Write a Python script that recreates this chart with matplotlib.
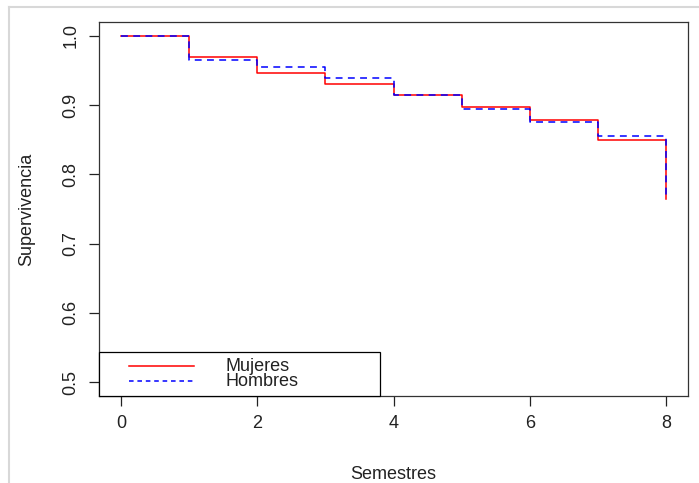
import matplotlib.pyplot as plt
from matplotlib.lines import Line2D
from matplotlib.patches import Rectangle

plt.rcParams['font.family'] = ['Liberation Sans Narrow', 'Liberation Sans', 'DejaVu Sans']

# curvas de supervivencia por semestre
semestres = [0, 1, 2, 3, 4, 5, 6, 7, 8]
surv_mujeres = [1.0, 0.970, 0.947, 0.931, 0.915, 0.897, 0.878, 0.850, 0.764]
surv_hombres = [1.0, 0.965, 0.955, 0.939, 0.915, 0.895, 0.876, 0.855, 0.764]
etiquetas = ["Mujeres", "Hombres"]

fig = plt.figure(figsize=(6.99, 4.83), dpi=100)
ax = fig.add_axes([99 / 699, 1 - 396 / 483, 589 / 699, 374 / 483])

ax.step(semestres, surv_mujeres, where="post", color="red", lw=1.1)
ax.step(semestres, surv_hombres, where="post", color="blue", lw=1.1,
        linestyle=(0, (4.5, 3.5)))

ax.set_xlim(-0.32, 8.32)
ax.set_ylim(0.48, 1.02)
ax.set_xticks([0, 2, 4, 6, 8])
ax.set_yticks([0.5, 0.6, 0.7, 0.8, 0.9, 1.0])
ax.set_yticklabels(["0.5", "0.6", "0.7", "0.8", "0.9", "1.0"], rotation=90, va="center")
ax.tick_params(length=7, width=0.9, labelsize=13, pad=7, colors="#222222")
for s in ax.spines.values():
    s.set_color("#333333")
    s.set_linewidth(0.9)

ax.set_xlabel("Semestres", fontsize=13, labelpad=24, color="#222222")
ax.set_ylabel("Supervivencia", fontsize=13, labelpad=20, color="#222222")

# leyenda al estilo de R, pegada a la esquina inferior izquierda
ax.add_patch(Rectangle((0, 0), 0.477, 0.118, transform=ax.transAxes, facecolor="white",
                       edgecolor="black", lw=0.9, zorder=5, clip_on=False))
estilos = [dict(color="red", lw=1.1), dict(color="blue", lw=1.1, linestyle=(0, (3, 2.5)))]
for etiqueta, estilo, yy in zip(etiquetas, estilos, [0.080, 0.040]):
    ax.add_line(Line2D([0.051, 0.161], [yy, yy], transform=ax.transAxes, zorder=6, **estilo))
    ax.text(0.214, yy, etiqueta, transform=ax.transAxes, fontsize=13, va="center",
            color="#222222", zorder=6)

# marco gris claro alrededor de la figura
fig.add_artist(Line2D([9 / 699, 9 / 699], [0, 1 - 7 / 483], transform=fig.transFigure,
                      color="#d8d8d8", lw=1.5))
fig.add_artist(Line2D([9 / 699, 1], [1 - 7 / 483, 1 - 7 / 483], transform=fig.transFigure,
                      color="#d8d8d8", lw=1.5))

fig.savefig("out.png", dpi=100)
